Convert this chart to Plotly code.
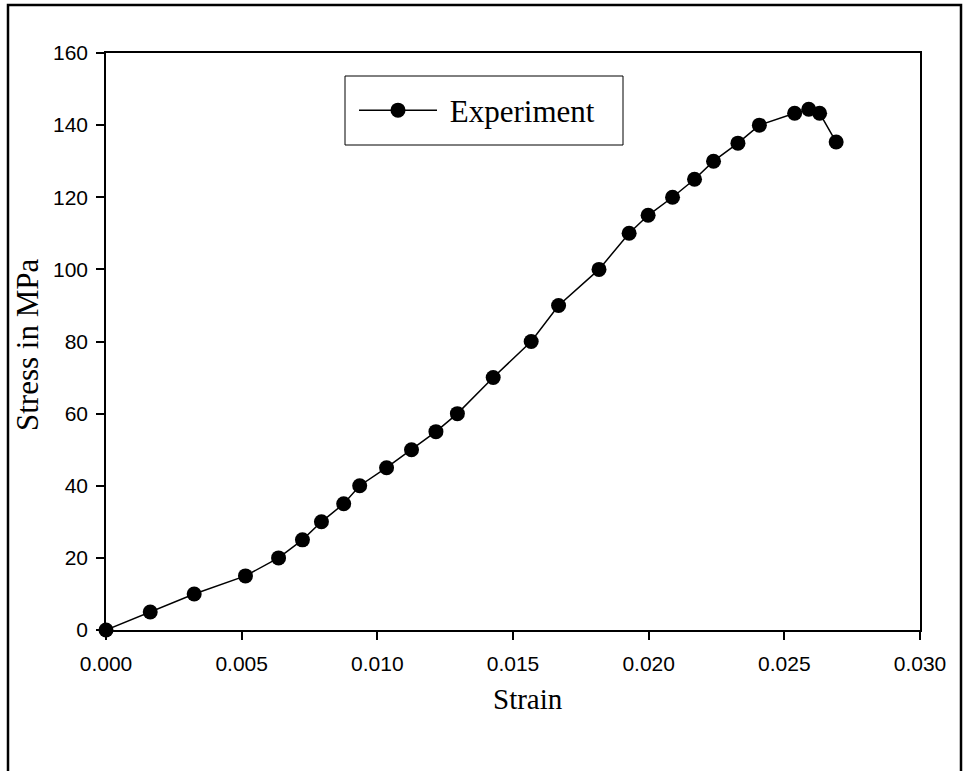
import plotly.graph_objects as go

strain = [0.0, 0.00163, 0.00325, 0.00514, 0.00636, 0.00724, 0.00794, 0.00876,
          0.00935, 0.01034, 0.01126, 0.01216, 0.01295, 0.01427, 0.01567, 0.01668,
          0.01817, 0.01928, 0.01998, 0.02088, 0.02169, 0.02239, 0.02329, 0.02408,
          0.02538, 0.02590, 0.02630, 0.02691]
stress = [0, 5, 10, 15, 20, 25, 30, 35,
          40, 45, 50, 55, 60, 70, 80, 90,
          100, 110, 115, 120, 125, 130, 135, 140,
          143.3, 144.4, 143.3, 135.3]

x_ticks = [0.0, 0.005, 0.010, 0.015, 0.020, 0.025, 0.030]
x_ticklabels = ["0.000", "0.005", "0.010", "0.015", "0.020", "0.025", "0.030"]
y_ticks = [0, 20, 40, 60, 80, 100, 120, 140, 160]
x_title = "Strain"
y_title = "Stress in MPa"
series_name = "Experiment"

fig = go.Figure()
fig.add_trace(go.Scatter(
    x=strain, y=stress, mode="lines+markers", name="\u00a0" + series_name,
    line=dict(color="black", width=1.5),
    marker=dict(color="black", size=15),
    cliponaxis=False,
))

W, H = 963, 771
L, R, T, B = 106, 43, 53, 141
pw, ph = W - L - R, H - T - B

def px_to_paper_x(px):
    return (px - L) / pw

def px_to_paper_y(py):
    return (H - B - py) / ph

serif = "Liberation Serif, Times New Roman, serif"

# outer frame
fig.add_shape(type="rect", xref="paper", yref="paper",
              x0=px_to_paper_x(8), x1=px_to_paper_x(961),
              y0=px_to_paper_y(800), y1=px_to_paper_y(5),
              line=dict(color="black", width=2.5), fillcolor="rgba(0,0,0,0)",
              layer="above")
# legend box
fig.add_shape(type="rect", xref="paper", yref="paper",
              x0=px_to_paper_x(345), x1=px_to_paper_x(623),
              y0=px_to_paper_y(145), y1=px_to_paper_y(76),
              line=dict(color="black", width=1), fillcolor="white",
              layer="above")

fig.add_annotation(text=x_title, xref="paper", yref="paper",
                   x=px_to_paper_x(528), y=px_to_paper_y(699),
                   xanchor="center", yanchor="middle", showarrow=False,
                   font=dict(family=serif, size=29, color="black"))
fig.add_annotation(text=y_title, xref="paper", yref="paper",
                   x=px_to_paper_x(28), y=px_to_paper_y(345),
                   xanchor="center", yanchor="middle", showarrow=False, textangle=-90,
                   font=dict(family=serif, size=31, color="black"))

axis_common = dict(showgrid=False, zeroline=False, showline=True, linecolor="black",
                   linewidth=1.5, mirror=True, ticks="outside", ticklen=8,
                   tickwidth=1.5, tickcolor="black",
                   tickfont=dict(family="Liberation Sans, Arial", size=21, color="black"))

fig.update_layout(
    width=W, height=H,
    margin=dict(l=L, r=R, t=T, b=B, pad=0),
    paper_bgcolor="white", plot_bgcolor="white",
    xaxis=dict(range=[0, 0.030], tickvals=x_ticks, ticktext=x_ticklabels,
               ticklabelstandoff=6, **axis_common),
    yaxis=dict(range=[0, 160], tickvals=y_ticks,
               ticklabelstandoff=4, **axis_common),
    showlegend=True,
    legend=dict(x=px_to_paper_x(354), y=px_to_paper_y(110.5), xanchor="left", yanchor="middle",
                borderwidth=0, bgcolor="rgba(0,0,0,0)",
                font=dict(family=serif, size=31, color="black"),
                itemwidth=78),
)

fig.write_html("out.html")
